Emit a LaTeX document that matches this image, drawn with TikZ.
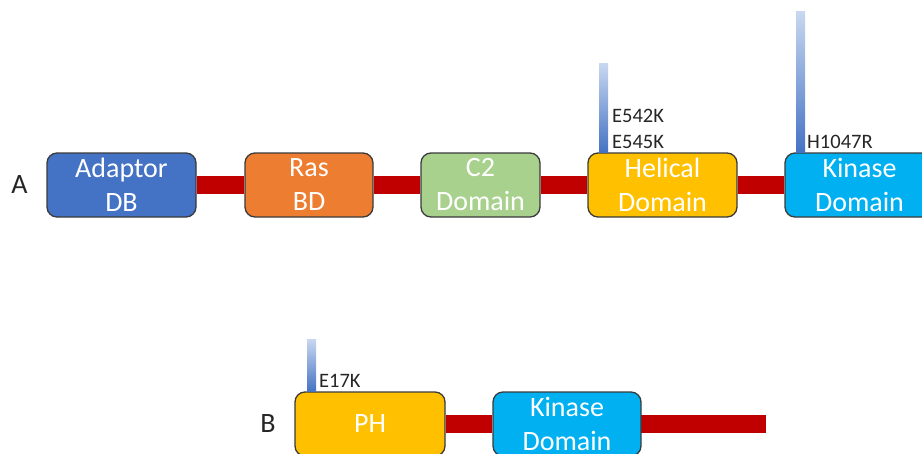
\documentclass[tikz,border=0pt]{standalone}
\usepackage{fontspec}
\setmainfont{Carlito}
\usetikzlibrary{backgrounds}
\definecolor{cAdapt}{HTML}{4472C4}
\definecolor{cRas}{HTML}{ED7D31}
\definecolor{cC2}{HTML}{A9D18E}
\definecolor{cHel}{HTML}{FFC000}
\definecolor{cKin}{HTML}{00B0F0}
\definecolor{cLink}{HTML}{C00000}
\definecolor{cBorder}{HTML}{3A3A3A}
\definecolor{cBarTop}{HTML}{C9D8F0}
\definecolor{cBarBot}{HTML}{4472C4}
\tikzset{
  domainbox/.style={draw=cBorder, line width=1.3pt, rounded corners=10pt,
    minimum height=64pt, inner sep=0pt, align=center, text=white,
    font=\fontsize{28}{34}\selectfont},
  linker/.style={draw=cLink, line width=18pt},
  mutlabel/.style={anchor=south west, inner sep=0pt, align=left, text=black!85,
    font=\fontsize{20.5}{26}\selectfont},
  panellabel/.style={inner sep=0pt, text=black!85, font=\fontsize{28}{34}\selectfont},
  mutbar/.style={top color=cBarTop, bottom color=cBarBot, draw=none}
}
\begin{document}
\begin{tikzpicture}[x=1pt,y=-1pt]
\useasboundingbox (0,0) rectangle (922,453);
\clip (0,0) rectangle (922,453);
% Row A
\node[panellabel] (labA) at (19.5,185) {A};
\node[domainbox, fill=cAdapt, minimum width=149pt] (adapt) at (121.5,185) {Adaptor\\DB};
\node[domainbox, fill=cRas, minimum width=128pt] (ras) at (309,185) {Ras\\BD};
\node[domainbox, fill=cC2, minimum width=119pt] (c2) at (480.5,185) {C2\\Domain};
\node[domainbox, fill=cHel, minimum width=149pt] (hel) at (662.5,185) {Helical\\Domain};
\node[domainbox, fill=cKin, minimum width=149pt] (kinA) at (859.5,185) {Kinase\\Domain};
\begin{scope}[on background layer]
  \draw[linker] (adapt) -- (ras);
  \draw[linker] (ras) -- (c2);
  \draw[linker] (c2) -- (hel);
  \draw[linker] (hel) -- (kinA);
\end{scope}
% mutations A
\shade[mutbar] (599,63) rectangle (608,152.5);
\shade[mutbar] (796,11) rectangle (805,152.5);
\node[mutlabel] (mutHel) at (612,149) {E542K\\E545K};
\node[mutlabel] (mutKin) at (807,149) {H1047R};
% Row B
\node[panellabel] (labB) at (268,424) {B};
\node[domainbox, fill=cHel, minimum width=150pt] (ph) at (370,424) {PH};
\node[domainbox, fill=cKin, minimum width=148pt] (kinB) at (567,424) {Kinase\\Domain};
\coordinate (endB) at (766,424);
\begin{scope}[on background layer]
  \draw[linker] (ph) -- (kinB);
  \draw[linker] (kinB.center) -- (endB);
\end{scope}
\shade[mutbar] (307,339) rectangle (316,391.5);
\node[mutlabel] (mutPH) at (319,388) {E17K};
\end{tikzpicture}
\end{document}
